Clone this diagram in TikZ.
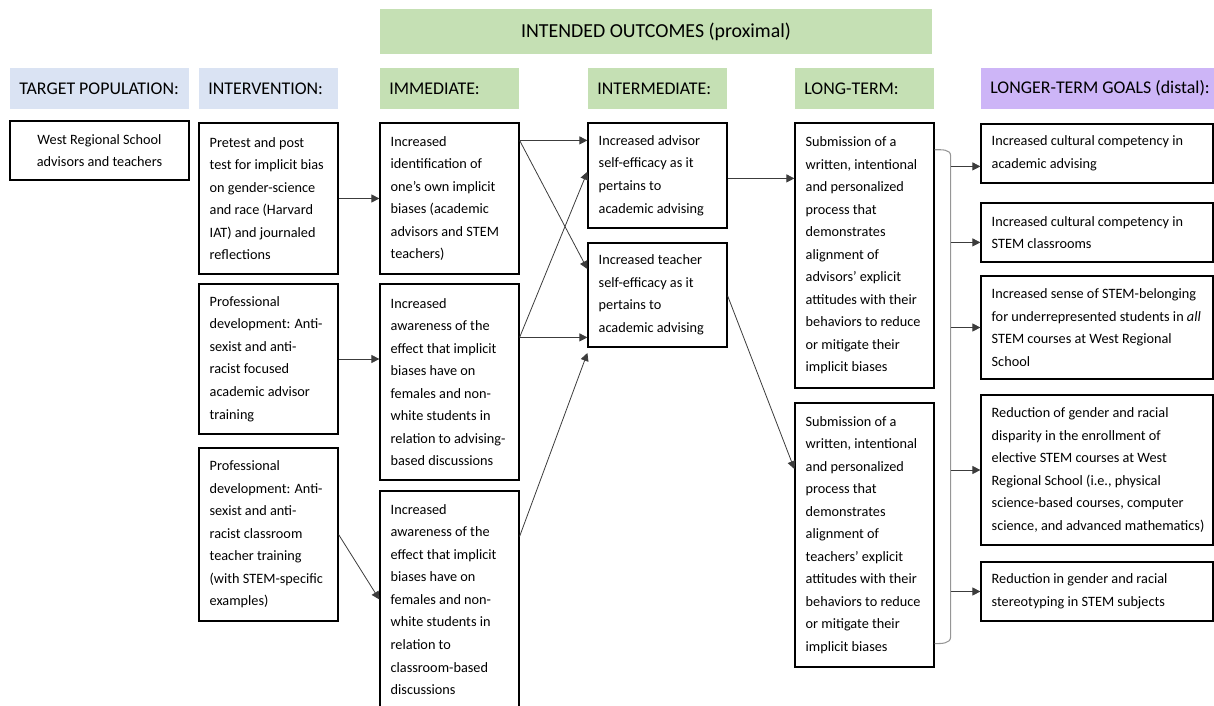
\documentclass[tikz,border=0pt]{standalone}
\usepackage{fontspec}
\setmainfont{Carlito}
\usetikzlibrary{arrows.meta}

\definecolor{hdrblue}{RGB}{218,227,243}
\definecolor{hdrgreen}{RGB}{197,224,180}
\definecolor{hdrpurple}{RGB}{205,181,247}
\definecolor{bracketgray}{RGB}{150,150,150}
\definecolor{linkgray}{RGB}{60,60,60}

% outlined box with left-aligned text: [box style]{name}{x1}{y1}{x2}{y2}{text}
% corners are given in pixel units; the text starts 11 px from the left edge
\newcommand\flowbox[7][fbox]{%
  \pgfmathsetmacro\fbw{(#5-#3)*0.75}%
  \pgfmathsetmacro\fbh{(#6-#4)*0.75}%
  \node[#1,minimum width=\fbw pt,minimum height=\fbh pt]
    (#2) at ({(#3+#5)/2},{(#4+#6)/2}) {};
  \node[txt,anchor=west] (#2-text) at ([xshift=8.25pt]#2.west) {#7};}

% header band: [fill colour]{name}{x1}{y1}{x2}{y2}{text}
\newcommand\hdrbox[7][hdrgreen]{%
  \pgfmathsetmacro\fbw{(#5-#3)*0.75}%
  \pgfmathsetmacro\fbh{(#6-#4)*0.75}%
  \node[band,fill=#1,minimum width=\fbw pt,minimum height=\fbh pt]
    (#2) at ({(#3+#5)/2},{(#4+#6)/2}) {};
  \node[hdrtxt,anchor=west] (#2-text) at ([xshift=7pt]#2.west) {#7};}

\tikzset{
  fbox/.style={draw=black,line width=0.9pt,rectangle,inner sep=0pt},
  band/.style={rectangle,inner sep=0pt},
  txt/.style={inner sep=0pt,align=left,font=\fontsize{10.7}{16.9}\selectfont},
  ctxt/.style={inner sep=0pt,align=center,font=\fontsize{10.7}{16.9}\selectfont},
  hdrtxt/.style={inner sep=0pt,align=left,font=\fontsize{13.4}{16}\selectfont},
  titletxt/.style={inner sep=0pt,align=center,font=\fontsize{14.9}{18}\selectfont},
  arr/.style={draw=linkgray,line width=0.6pt,-{Triangle[length=6pt,width=6pt]}},
  bracket/.style={draw=bracketgray,line width=0.8pt}
}

\begin{document}
\begin{tikzpicture}[x=0.75pt,y=-0.75pt]
\useasboundingbox (0,0) rectangle (1214,706);
\clip (0,0) rectangle (1214,706);

% headers
\node[band,fill=hdrgreen,minimum width=414pt,minimum height=33.75pt] (htitle) at (656,31.5) {};
\node[titletxt] (htitle-text) at (htitle.center) {INTENDED OUTCOMES (proximal)};
\hdrbox[hdrblue]{hpop}{10}{68}{189}{109}{TARGET POPULATION:}
\hdrbox[hdrblue]{hint}{199}{68}{338}{109}{INTERVENTION:}
\hdrbox{himm}{380}{68}{519}{109}{IMMEDIATE:}
\hdrbox{hmid}{588}{68}{727}{109}{INTERMEDIATE:}
\hdrbox{hlong}{795}{68}{934}{109}{LONG-TERM:}
\hdrbox[hdrpurple]{hgoal}{981}{68}{1218}{109}{LONGER-TERM GOALS (distal):}

% target population
\node[fbox,minimum width=134.25pt,minimum height=44.25pt] (pop) at (99.5,150.5) {};
\node[ctxt] (pop-text) at (pop.center) {West Regional School\\advisors and teachers};

% interventions
\flowbox{n1}{199}{123}{338}{274}{Pretest and post\\test for implicit bias\\on gender-science\\and race (Harvard\\IAT) and journaled\\reflections}
\flowbox{n2}{199}{284}{338}{434}{Professional\\development: Anti-\\sexist and anti-\\racist focused\\academic advisor\\training}
\flowbox{n3}{199}{448}{338}{621}{Professional\\development: Anti-\\sexist and anti-\\racist classroom\\teacher training\\(with STEM-specific\\examples)}

% immediate outcomes
\flowbox{m1}{380}{123}{519}{274}{Increased\\identification of\\one’s own implicit\\biases (academic\\advisors and STEM\\teachers)}
\flowbox{m2}{380}{284}{519}{480}{Increased\\awareness of the\\effect that implicit\\biases have on\\females and non-\\white students in\\relation to advising-\\based discussions}
\flowbox{m3}{380}{491}{519}{708}{Increased\\awareness of the\\effect that implicit\\biases have on\\females and non-\\white students in\\relation to\\classroom-based\\discussions}

% intermediate outcomes
\flowbox{t1}{588}{123}{727}{228}{Increased advisor\\self-efficacy as it\\pertains to\\academic advising}
\flowbox{t2}{588}{243}{727}{347}{Increased teacher\\self-efficacy as it\\pertains to\\academic advising}

% long-term outcomes
\flowbox{l1}{795}{123}{934}{388}{Submission of a\\written, intentional\\and personalized\\process that\\demonstrates\\alignment of\\advisors’ explicit\\attitudes with their\\behaviors to reduce\\or mitigate their\\implicit biases}
\flowbox{l2}{795}{403}{934}{667}{Submission of a\\written, intentional\\and personalized\\process that\\demonstrates\\alignment of\\teachers’ explicit\\attitudes with their\\behaviors to reduce\\or mitigate their\\implicit biases}

% longer-term goals
\flowbox{g1}{981}{124}{1213}{183}{Increased cultural competency in\\academic advising}
\flowbox{g2}{981}{203}{1213}{262}{Increased cultural competency in\\STEM classrooms}
\flowbox{g3}{981}{276}{1213}{379}{Increased sense of STEM-belonging\\for underrepresented students in \textit{all}\\STEM courses at West Regional\\School}
\flowbox{g4}{981}{395}{1213}{545}{Reduction of gender and racial\\disparity in the enrollment of\\elective STEM courses at West\\Regional School (i.e., physical\\science-based courses, computer\\science, and advanced mathematics)}
\flowbox{g5}{981}{562}{1213}{621}{Reduction in gender and racial\\stereotyping in STEM subjects}

% interventions -> immediate
\draw[arr] (n1.east) -- (n1.east -| m1.west);
\draw[arr] (n2.east) -- (n2.east -| m2.west);
\draw[arr] (n3.east) -- (m3.west);

% immediate -> intermediate
\coordinate (m1out) at ([yshift=-13.5pt]m1.north east);
\coordinate (m2out) at ([yshift=-40.5pt]m2.north east);
\coordinate (m3out) at ([yshift=-34.5pt]m3.north east);
\draw[arr] (m1out) -- ([yshift=-13.5pt]t1.north west);
\draw[arr] (m1out) -- ([yshift=-20pt]t2.north west);
\draw[arr] (m2out) -- ([yshift=-37pt]t1.north west);
\draw[arr] (m2out) -- (m2out -| t2.west);
\draw[arr] (m3out) -- ([yshift=-4pt]t2.south west);

% intermediate -> long-term
\draw[arr] ([yshift=-42pt]t1.north east) -- ([yshift=-42pt]l1.north west);
\draw[arr] ([yshift=-40pt]t2.north east) -- ([yshift=-50pt]l2.north west);

% bracket joining the long-term outcomes
\coordinate (bt) at ([yshift=-20.5pt]l1.north east);
\coordinate (bb) at ([yshift=18pt]l2.south east);
\draw[bracket] (bt) to[out=0,in=90] ++(16,6) coordinate (sptop)
  -- ([yshift=5pt]sptop |- bb) to[out=-90,in=0] (bb);

% bracket -> longer-term goals
\coordinate (g1in) at ([yshift=-32.25pt]g1.north west);
\coordinate (g2in) at ([yshift=-30pt]g2.north west);
\draw[arr] (sptop |- g1in) -- (g1in);
\draw[arr] (sptop |- g2in) -- (g2in);
\draw[arr] (sptop |- g3.west) -- (g3.west);
\draw[arr] (sptop |- g4.west) -- (g4.west);
\draw[arr] (sptop |- g5.west) -- (g5.west);
\end{tikzpicture}
\end{document}
